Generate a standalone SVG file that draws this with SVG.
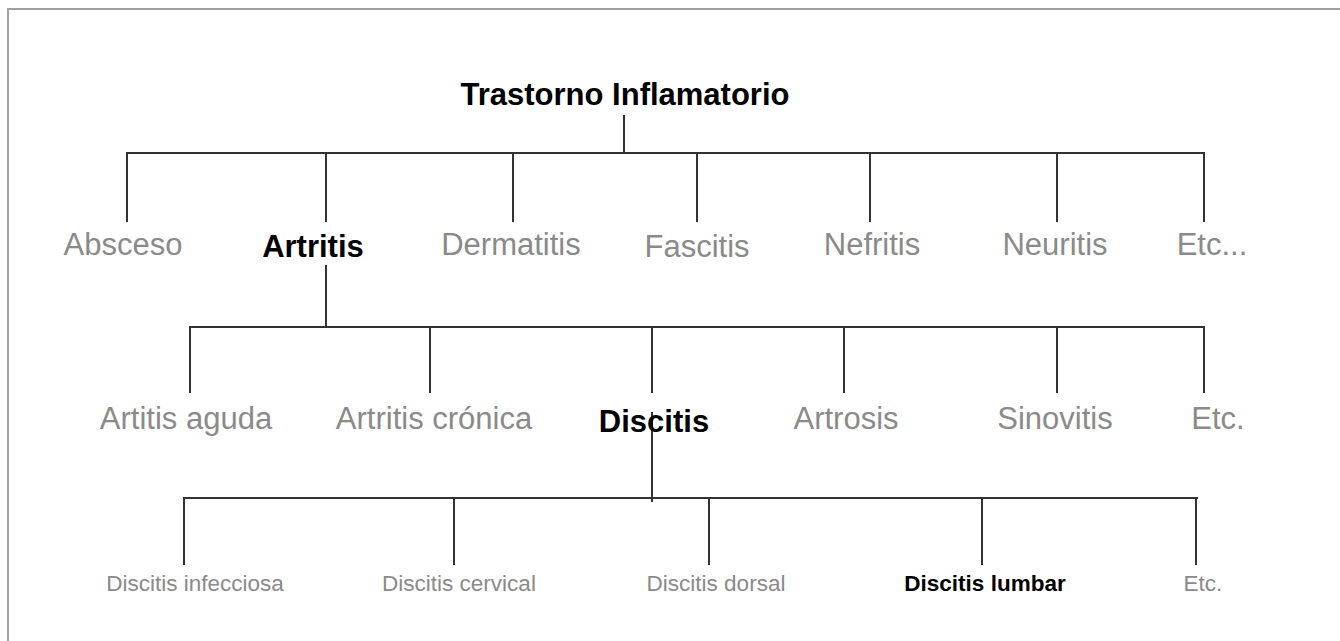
<svg xmlns="http://www.w3.org/2000/svg" width="1340" height="641" viewBox="0 0 1340 641">
<style>
.bg{fill:#ffffff}
.frame{fill:none;stroke:#a0a0a0;stroke-width:2}
.c{fill:none;stroke:#333333;stroke-width:2}
text{font-family:"Liberation Sans",Arial,sans-serif;text-anchor:middle}
.l{font-size:31px;fill:#8a8a8a}
.lb{font-size:31px;font-weight:bold;fill:#000000}
.s{font-size:22.5px;fill:#8a8a8a}
.sb{font-size:22.5px;font-weight:bold;fill:#000000}
</style>
<rect class="bg" x="0" y="0" width="1340" height="641"/>
<path class="frame" d="M8,641 V9 H1340"/>
<g id="connectors">
<path class="c" d="M624,115 V153 M127,222 V153 H1204 V222 M326,153 V222 M513,153 V222 M697,153 V222 M870,153 V222 M1057,153 V222"/>
<path class="c" d="M326,265 V327 M190,393 V327 H1204 V393 M430,327 V393 M652,327 V393 M844,327 V393 M1057,327 V393"/>
<path class="c" d="M652,412 V502 M184,565 V498 H1198 M1196,498 V565 M454,498 V565 M709,498 V565 M982,498 V565"/>
</g>
<g id="root"><text class="lb" x="625" y="105">Trastorno Inflamatorio</text></g>
<g id="absceso"><text class="l" x="123" y="255">Absceso</text></g>
<g id="artritis"><text class="lb" x="313" y="257">Artritis</text></g>
<g id="dermatitis"><text class="l" x="511" y="255">Dermatitis</text></g>
<g id="fascitis"><text class="l" x="697" y="257">Fascitis</text></g>
<g id="nefritis"><text class="l" x="872" y="255">Nefritis</text></g>
<g id="neuritis"><text class="l" x="1055" y="255">Neuritis</text></g>
<g id="etc1"><text class="l" x="1212" y="255">Etc...</text></g>
<g id="artitis-aguda"><text class="l" x="186" y="429">Artitis aguda</text></g>
<g id="artritis-cronica"><text class="l" x="434" y="429">Artritis crónica</text></g>
<g id="discitis"><text class="lb" x="654" y="432">Discitis</text></g>
<g id="artrosis"><text class="l" x="846" y="429">Artrosis</text></g>
<g id="sinovitis"><text class="l" x="1055" y="429">Sinovitis</text></g>
<g id="etc2"><text class="l" x="1218" y="429">Etc.</text></g>
<g id="discitis-infecciosa"><text class="s" x="195" y="591">Discitis infecciosa</text></g>
<g id="discitis-cervical"><text class="s" x="459" y="591">Discitis cervical</text></g>
<g id="discitis-dorsal"><text class="s" x="716" y="591">Discitis dorsal</text></g>
<g id="discitis-lumbar"><text class="sb" x="985" y="591">Discitis lumbar</text></g>
<g id="etc3"><text class="s" x="1203" y="591">Etc.</text></g>
</svg>
